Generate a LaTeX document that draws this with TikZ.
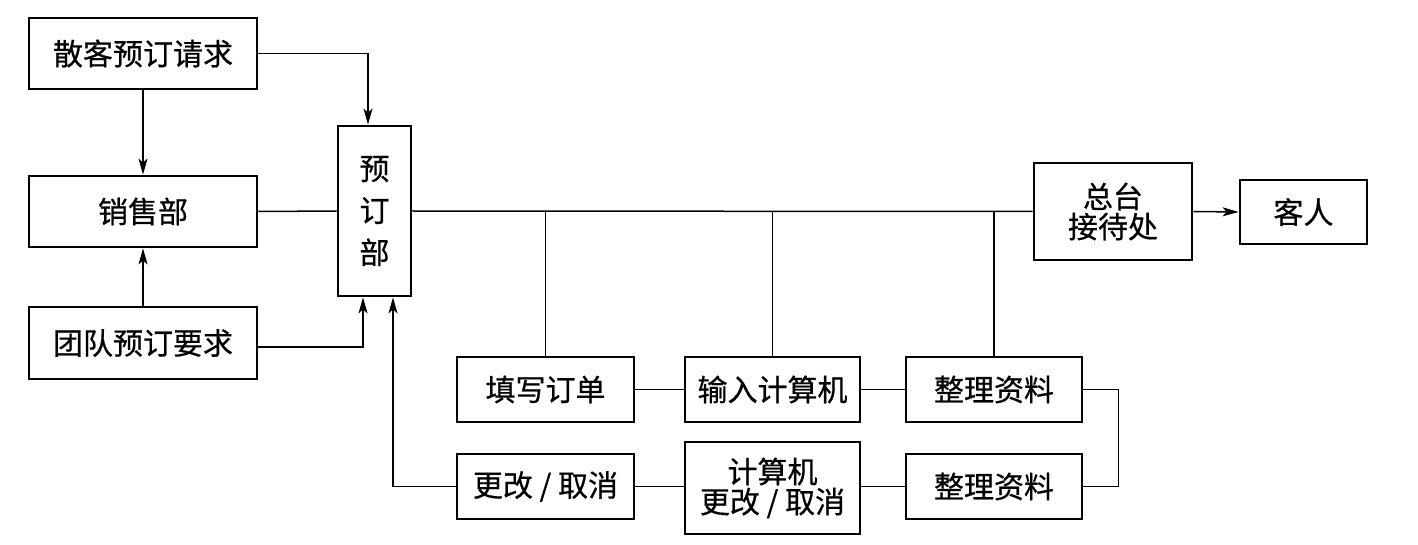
\documentclass[tikz,border=0pt]{standalone}
\usepackage{fontspec}
\setmainfont{Noto Sans CJK SC}[FakeBold=0.6]
\usetikzlibrary{arrows.meta,calc}
\tikzset{
  box/.style={draw,line width=1.4pt,inner sep=0pt,align=center,font=\fontsize{15}{15}\selectfont},
  conn/.style={line width=0.75pt},
  arr/.style={conn,-{Stealth[length=8pt,width=4.5pt,inset=2pt]}}
}
\begin{document}
\begin{tikzpicture}[x=0.5pt,y=-0.5pt]
\useasboundingbox (0,0) rectangle (1418,545);
\node[box,minimum width=114pt,minimum height=35.5pt] (sanke) at (143,53.5) {散客预订请求};
\node[box,minimum width=114pt,minimum height=35.5pt] (xiaoshou) at (143,211.5) {销售部};
\node[box,minimum width=114pt,minimum height=36pt] (tuandui) at (143,343) {团队预订要求};
\node[box,minimum width=36.5pt,minimum height=85pt] (yuding) at (374.5,211) {预\\[6pt]订\\[6pt]部};
\node[box,minimum width=88.5pt,minimum height=32.5pt] (tiandan) at (545.5,389.5) {填写订单};
\node[box,minimum width=87.5pt,minimum height=32.5pt] (shuru) at (772.5,389.5) {输入计算机};
\node[box,minimum width=88pt,minimum height=32.5pt] (zl1) at (994,389.5) {整理资料};
\node[box,minimum width=88.5pt,minimum height=32.5pt] (gengai) at (545.5,486.5) {更改 / 取消};
\node[box,minimum width=87.5pt,minimum height=46pt] (jsj) at (772.5,488) {计算机\\更改 / 取消};
\node[box,minimum width=88pt,minimum height=32.5pt] (zl2) at (994,486.5) {整理资料};
\node[box,minimum width=79pt,minimum height=48.5pt] (zongtai) at (1113,211.5) {总台\\接待处};
\node[box,minimum width=63.5pt,minimum height=32pt] (keren) at (1303.5,212) {客人};
\coordinate (ytop) at ($(yuding.north)+(-6.5,0)$);
\coordinate (yb1) at ($(yuding.south)+(-11.5,0)$);
\coordinate (yb2) at ($(yuding.south)+(18.5,0)$);
\coordinate (rc) at ($(zl1.east)+(35,0)$);
\draw[arr] (sanke.east) -| (ytop);
\draw[arr] (sanke.south) -- (xiaoshou.north);
\draw[arr] (tuandui.north) -- (xiaoshou.south);
\draw[conn] (xiaoshou.east) -- (yuding.west);
\draw[arr] ($(tuandui.east)+(0,4)$) -| (yb1);
\draw[arr] (gengai.west) -| (yb2);
\draw[conn] (yuding.east) -- (zongtai.west);
\draw[conn] (tiandan.north) -- (tiandan.north |- zongtai.west);
\draw[conn] (shuru.north) -- (shuru.north |- zongtai.west);
\draw[conn] (zl1.north) -- (zl1.north |- zongtai.west);
\draw[conn] (tiandan.east) -- (shuru.west);
\draw[conn] (shuru.east) -- (zl1.west);
\draw[conn] (zl1.east) -- (rc) |- (zl2.east);
\draw[conn] (gengai.east) -- (gengai.east -| jsj.west);
\draw[conn] (zl2.west) -- (zl2.west -| jsj.east);
\draw[arr] (zongtai.east) -- (keren.west);
\end{tikzpicture}
\end{document}
